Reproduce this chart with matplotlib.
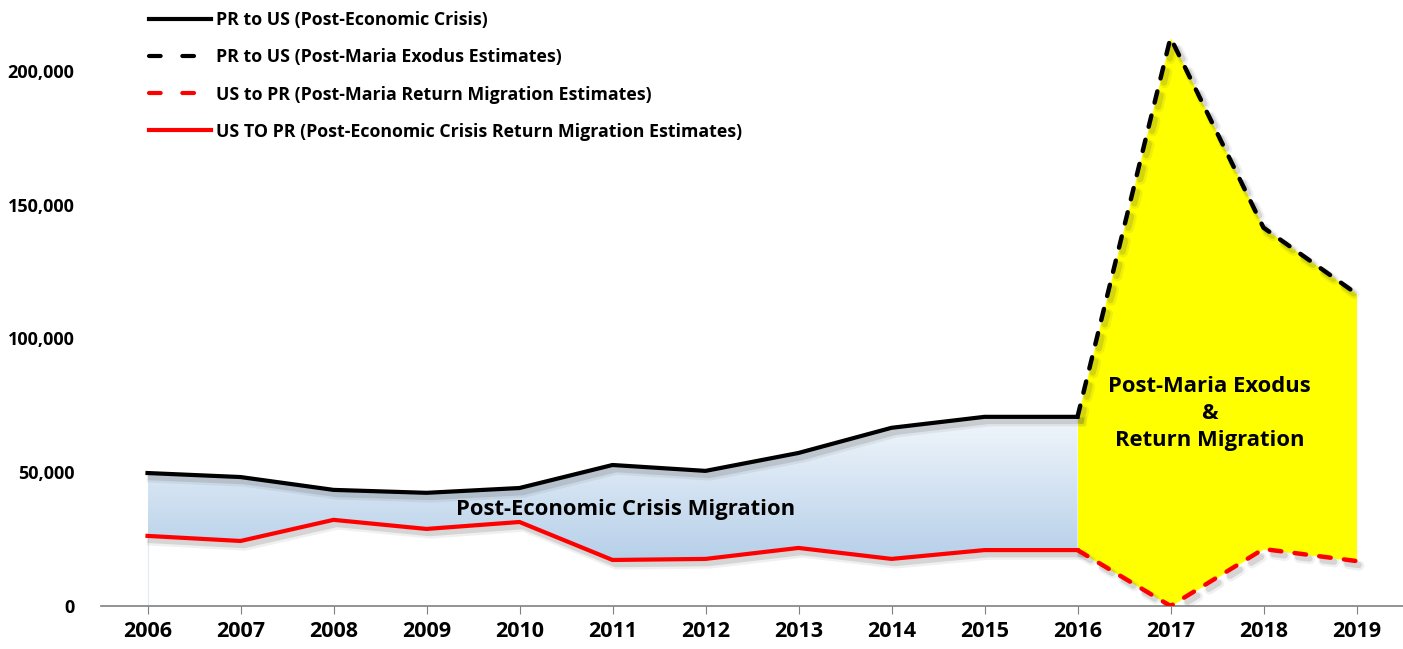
import numpy as np
import matplotlib
matplotlib.use("Agg")
import matplotlib.pyplot as plt
import matplotlib.patheffects as pe
from matplotlib.lines import Line2D
from matplotlib.colors import LinearSegmentedColormap

plt.rcParams['font.family'] = ['Open Sans', 'DejaVu Sans']
plt.rcParams['font.weight'] = 'bold'

# ----------------------------------------------------------------------
# данные
years = [2006, 2007, 2008, 2009, 2010, 2011, 2012, 2013, 2014, 2015, 2016, 2017, 2018, 2019]
pr_to_us = [49700, 48200, 43400, 42300, 44100, 52700, 50500, 57200, 66600, 70700, 70700,
            212400, 141400, 116700]
us_to_pr = [26200, 24300, 32200, 28800, 31400, 17200, 17600, 21700, 17600, 20900, 20900,
            0, 21300, 16800]
split_year = 2016
labels = ['PR to US (Post-Economic Crisis)',
          'PR to US (Post-Maria Exodus Estimates)',
          'US to PR (Post-Maria Return Migration Estimates)',
          'US TO PR (Post-Economic Crisis Return Migration Estimates)']

years = np.array(years)
pr_to_us = np.array(pr_to_us)
us_to_pr = np.array(us_to_pr)
k = list(years).index(split_year)

fig = plt.figure(figsize=(14.03, 6.49), dpi=100)
ax = fig.add_axes([101 / 1403, 43 / 649, 1302 / 1403, 602 / 649])
ax.set_xlim(2005.5, 2019.5)
ax.set_ylim(0, 225000)

# голубой градиент между линиями до 2016
poly = ax.fill_between(years[:k + 1], us_to_pr[:k + 1], pr_to_us[:k + 1],
                       facecolor='none', edgecolor='none')
cmap = LinearSegmentedColormap.from_list('bl', ['#a3c3e3', '#f7fafd'])
grad = np.linspace(0, 1, 256).reshape(-1, 1)
im = ax.imshow(grad, cmap=cmap, origin='lower', aspect='auto',
               extent=[years[0], years[k], 0, 76000], zorder=1)
im.set_clip_path(poly.get_paths()[0], transform=ax.transData)
ax.vlines(years[0], 0, us_to_pr[0], color='#e3ebf4', lw=0.8, zorder=1)

# жёлтая область после Марии
ax.fill_between(years[k:], us_to_pr[k:], pr_to_us[k:], color='#ffff00', zorder=1, lw=0)

shadow = [pe.SimpleLineShadow(offset=(3, -3.5), shadow_color='#404040', alpha=0.08, linewidth=7),
          pe.SimpleLineShadow(offset=(2.5, -3), shadow_color='#404040', alpha=0.15, linewidth=4.5),
          pe.Normal()]
ax.plot(years[:k + 1], pr_to_us[:k + 1], color='black', lw=3, zorder=3,
        solid_joinstyle='round', path_effects=shadow)
ax.plot(years[:k + 1], us_to_pr[:k + 1], color='#ff0000', lw=3, zorder=3,
        solid_joinstyle='round', path_effects=shadow)
ax.plot(years[k:], pr_to_us[k:], color='black', lw=3.2, zorder=3,
        dashes=(2.6, 3.0), dash_capstyle='round', path_effects=shadow)
ax.plot(years[k:], us_to_pr[k:], color='#ff0000', lw=3.2, zorder=3,
        dashes=(2.6, 3.0), dash_capstyle='round', path_effects=shadow)

# подписи областей
ax.text(2011.14, 36000, 'Post-Economic Crisis Migration', ha='center', va='center',
        fontsize=15.8, fontweight='bold', zorder=4)
ax.text(2017.42, 72000, 'Post-Maria Exodus\n&\nReturn Migration', ha='center', va='center',
        fontsize=15.8, fontweight='bold', linespacing=1.38, zorder=4)

# оси
for s in ['top', 'right', 'left']:
    ax.spines[s].set_visible(False)
ax.spines['bottom'].set_color('#808080')
ax.spines['bottom'].set_linewidth(1.2)
ax.set_xticks(years)
ax.set_xticklabels([str(y) for y in years], fontsize=15.5, fontweight='bold')
ax.tick_params(axis='x', direction='out', length=6, color='#808080', pad=5)
ax.set_yticks([0, 50000, 100000, 150000, 200000])
ax.set_yticklabels(['0', '50,000', '100,000', '150,000', '200,000'], fontsize=13,
                   fontweight='bold')
ax.tick_params(axis='y', length=0, pad=19)

# легенда
handles = [Line2D([], [], color='black', lw=3),
           Line2D([], [], color='black', lw=3, dashes=(2.8, 5.2), dash_capstyle='round'),
           Line2D([], [], color='#ff0000', lw=3, dashes=(2.8, 5.2), dash_capstyle='round'),
           Line2D([], [], color='#ff0000', lw=3)]
fs = 12.8
leg = fig.legend(handles, labels, loc='upper left', bbox_to_anchor=(142 / 1403, 1 - 4 / 649),
                 frameon=False, handlelength=62 / (fs * 100 / 72), handletextpad=0.25,
                 labelspacing=1.08, borderaxespad=0, prop={'weight': 'bold', 'size': fs})

fig.savefig('out.png', dpi=100, facecolor='white')
